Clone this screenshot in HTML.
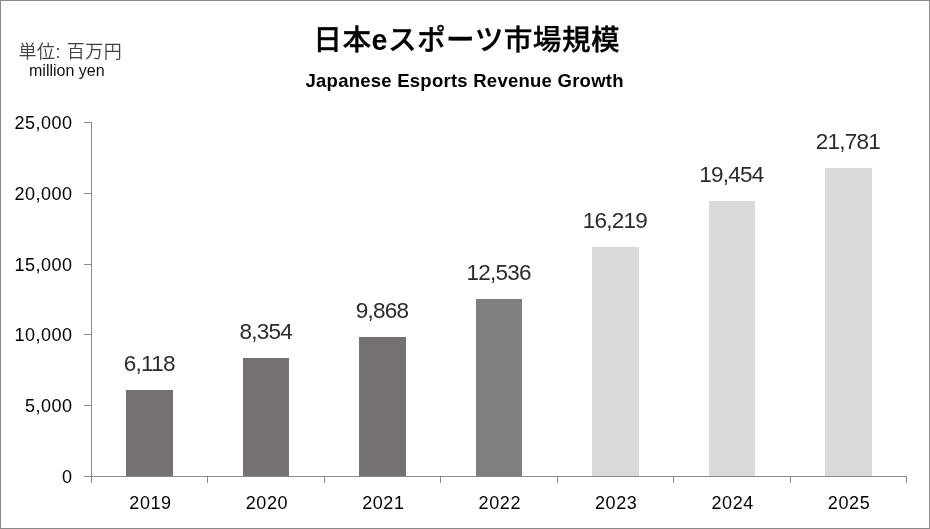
<!DOCTYPE html>
<html lang="ja">
<head>
<meta charset="utf-8">
<title>日本eスポーツ市場規模</title>
<style>
html,body{margin:0;padding:0;background:#fff;}
body{width:930px;height:529px;overflow:hidden;position:relative;font-family:"Liberation Sans","Noto Sans CJK JP",sans-serif;color:#000;}
#chart{position:absolute;left:0;top:0;width:928px;height:527px;border:1px solid #8a8a8a;background:#fff;}
#txt{position:absolute;left:0;top:0;width:930px;height:529px;will-change:transform;background:transparent;}
.abs{position:absolute;white-space:nowrap;line-height:1;}
.title{left:313.3px;font-weight:500;font-size:28.67px;top:26px;letter-spacing:0.45px;-webkit-text-stroke:0.3px #000;}
.title b{font-weight:700;-webkit-text-stroke:0;}
.sub{left:305.5px;font-weight:700;font-size:18.5px;top:72px;letter-spacing:0.25px;}
.unit{left:18.5px;top:43px;font-size:18px;color:#404040;font-weight:350;letter-spacing:0.55px;}
.unit2{left:29px;top:63px;font-size:16px;color:#111;}
.ln{position:absolute;background:#8a8a8a;}
.yl{font-size:18px;text-align:right;width:64px;left:8.5px;letter-spacing:0.5px;}
.xl{font-size:18px;text-align:center;width:80px;letter-spacing:0.6px;}
.vl{font-size:22.5px;text-align:center;width:100px;color:#2b2b2b;letter-spacing:-0.75px;}
.bar{position:absolute;}
</style>
</head>
<body>
<div id="chart"></div>

<div class="ln" style="left:91px;top:122px;width:1px;height:355px"></div>
<div class="ln" style="left:84px;top:476px;width:823px;height:1px"></div>
<div class="ln" style="left:84px;top:405px;width:7px;height:1px"></div>
<div class="ln" style="left:84px;top:334px;width:7px;height:1px"></div>
<div class="ln" style="left:84px;top:264px;width:7px;height:1px"></div>
<div class="ln" style="left:84px;top:193px;width:7px;height:1px"></div>
<div class="ln" style="left:84px;top:122px;width:7px;height:1px"></div>
<div class="ln" style="left:91px;top:476px;width:1px;height:7px"></div>
<div class="ln" style="left:207px;top:476px;width:1px;height:7px"></div>
<div class="ln" style="left:324px;top:476px;width:1px;height:7px"></div>
<div class="ln" style="left:440px;top:476px;width:1px;height:7px"></div>
<div class="ln" style="left:557px;top:476px;width:1px;height:7px"></div>
<div class="ln" style="left:673px;top:476px;width:1px;height:7px"></div>
<div class="ln" style="left:790px;top:476px;width:1px;height:7px"></div>
<div class="ln" style="left:906px;top:476px;width:1px;height:7px"></div>
<div class="bar" style="left:126px;top:390px;width:47px;height:86px;background:#767171"></div>
<div class="bar" style="left:243px;top:358px;width:46px;height:118px;background:#767171"></div>
<div class="bar" style="left:359px;top:337px;width:47px;height:139px;background:#767171"></div>
<div class="bar" style="left:476px;top:299px;width:46px;height:177px;background:#7f7f7f"></div>
<div class="bar" style="left:592px;top:247px;width:47px;height:229px;background:#d9d9d9"></div>
<div class="bar" style="left:709px;top:201px;width:46px;height:275px;background:#d9d9d9"></div>
<div class="bar" style="left:825px;top:168px;width:47px;height:308px;background:#d9d9d9"></div>
<div id="txt">
<div class="abs title">日本<b>e</b>スポーツ市場規模</div>
<div class="abs sub">Japanese Esports Revenue Growth</div>
<div class="abs unit">単位: 百万円</div>
<div class="abs unit2">million yen</div>
<div class="abs yl" style="top:468px">0</div>
<div class="abs yl" style="top:397px">5,000</div>
<div class="abs yl" style="top:326px">10,000</div>
<div class="abs yl" style="top:256px">15,000</div>
<div class="abs yl" style="top:185px">20,000</div>
<div class="abs yl" style="top:114px">25,000</div>
<div class="abs xl" style="left:110.51px;top:494px">2019</div>
<div class="abs vl" style="left:99.26px;top:352.5px">6,118</div>
<div class="abs xl" style="left:226.94px;top:494px">2020</div>
<div class="abs vl" style="left:215.69px;top:320.5px">8,354</div>
<div class="abs xl" style="left:343.37px;top:494px">2021</div>
<div class="abs vl" style="left:332.12px;top:299.5px">9,868</div>
<div class="abs xl" style="left:459.80px;top:494px">2022</div>
<div class="abs vl" style="left:448.55px;top:261.5px">12,536</div>
<div class="abs xl" style="left:576.23px;top:494px">2023</div>
<div class="abs vl" style="left:564.98px;top:209.5px">16,219</div>
<div class="abs xl" style="left:692.66px;top:494px">2024</div>
<div class="abs vl" style="left:681.41px;top:163.5px">19,454</div>
<div class="abs xl" style="left:809.09px;top:494px">2025</div>
<div class="abs vl" style="left:797.84px;top:130.5px">21,781</div>
</div>
</body>
</html>
